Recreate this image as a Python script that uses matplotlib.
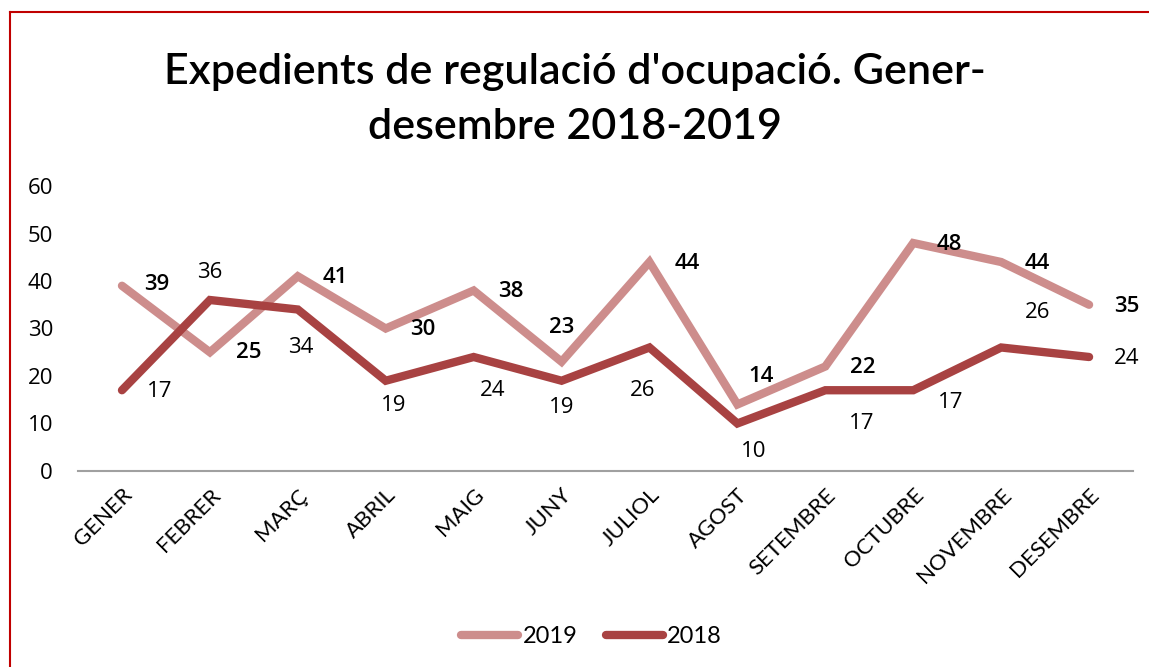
import os
import matplotlib.pyplot as plt
from matplotlib import font_manager
from matplotlib.font_manager import FontProperties
from matplotlib.lines import Line2D

months = ["GENER", "FEBRER", "MARÇ", "ABRIL", "MAIG", "JUNY", "JULIOL",
          "AGOST", "SETEMBRE", "OCTUBRE", "NOVEMBRE", "DESEMBRE"]
vals_2019 = [39, 25, 41, 30, 38, 23, 44, 14, 22, 48, 44, 35]
vals_2018 = [17, 36, 34, 19, 24, 19, 26, 10, 17, 17, 26, 24]

# label offsets (points)
off_2019 = [(25, 1), (28, 0), (27, -1), (27, -1), (27, -1), (0, 25),
            (27, -1), (17, 20), (27, -1), (26, -1), (26, -1), (27, -1)]
off_2018 = [(27, -1), (0, 20), (2, -27), (6, -18), (14, -24), (0, -19),
            (-5, -31), (12, -20), (26, -24), (27, -9), (26, 25), (27, -1)]

c19 = "#cd8d8c"
c18 = "#a84242"


def pick_font(patterns, fallback):
    files = [f.fname for f in font_manager.fontManager.ttflist]
    for pat in patterns:
        for fn in files:
            if os.path.basename(fn).lower().replace(" ", "") == pat.lower():
                return {"fname": fn}
    return {"family": fallback}


title_font = pick_font(["NotoSans-CondensedSemiBold.ttf", "NotoSans-CondensedBold.ttf",
                        "LiberationSansNarrow-Bold.ttf"], "Lato")
narrow_font = pick_font(["NotoSans-SemiCondensed.ttf", "NotoSans-Condensed.ttf",
                         "LiberationSansNarrow-Regular.ttf"], "Lato")
body = "Open Sans"


def fp(spec, size, weight="normal"):
    return FontProperties(size=size, weight=weight, **spec)


fig = plt.figure(figsize=(11.49, 6.67), dpi=100)
ax = fig.add_axes([0.0679, 0.2939, 0.9182, 0.4272])

x = list(range(len(months)))
ax.plot(x, vals_2019, color=c19, lw=6, solid_capstyle="round", solid_joinstyle="miter")
ax.plot(x, vals_2018, color=c18, lw=6, solid_capstyle="round", solid_joinstyle="miter")

for i, v in enumerate(vals_2019):
    ax.annotate(str(v), (i, v), xytext=off_2019[i], textcoords="offset points",
                ha="center", va="center", fontsize=16, fontweight="semibold",
                family=body, color="black")
for i, v in enumerate(vals_2018):
    ax.annotate(str(v), (i, v), xytext=off_2018[i], textcoords="offset points",
                ha="center", va="center", fontsize=16, family=body, color="black")

ax.set_xlim(-0.5, 11.5)
ax.set_ylim(0, 60)
ax.set_yticks(range(0, 61, 10))
ax.set_xticks(x)
ax.set_xticklabels(months, rotation=45, ha="right", rotation_mode="anchor",
                   fontproperties=fp(narrow_font, 16))
for lab in ax.get_yticklabels():
    lab.set_family(body)
    lab.set_fontsize(16)
ax.tick_params(axis="both", length=0)
ax.tick_params(axis="y", pad=18)
ax.tick_params(axis="x", pad=10)
for s in ["top", "right", "left"]:
    ax.spines[s].set_visible(False)
ax.spines["bottom"].set_color("#a0a0a0")
ax.spines["bottom"].set_linewidth(1.5)

fig.text(0.5, 0.851, "Expedients de regulació d'ocupació. Gener-\ndesembre 2018-2019",
         ha="center", va="center", fontproperties=fp(title_font, 31, "semibold"),
         linespacing=1.55)

handles = [Line2D([], [], color=c19, lw=6, solid_capstyle="round"),
           Line2D([], [], color=c18, lw=6, solid_capstyle="round")]
fig.legend(handles, ["2019", "2018"], loc="center", bbox_to_anchor=(0.515, 0.045),
           ncol=2, frameon=False, handlelength=2.4, handletextpad=0.2,
           columnspacing=1.2, prop=fp(narrow_font, 17))

# red frame on top and left edge
fig.add_artist(Line2D([10 / 1149, 1.0], [1 - 12 / 667, 1 - 12 / 667],
                      transform=fig.transFigure, color="#c00000", lw=1.5))
fig.add_artist(Line2D([10 / 1149, 10 / 1149], [0, 1 - 12 / 667],
                      transform=fig.transFigure, color="#c00000", lw=1.5))

fig.savefig("out.png", dpi=100)
